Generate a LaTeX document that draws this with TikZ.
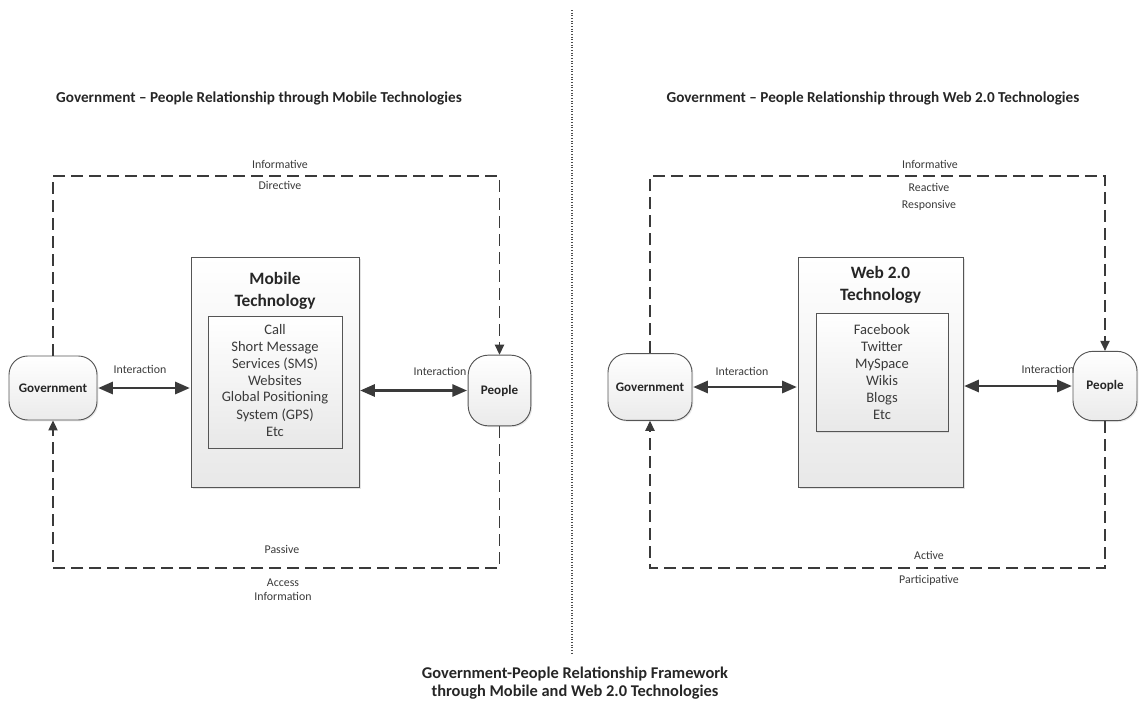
\documentclass[tikz,border=0pt]{standalone}
\usepackage{fontspec}
\setmainfont{Carlito}
\usetikzlibrary{arrows.meta,shadows}
\definecolor{edge}{HTML}{555555}
\definecolor{ink}{HTML}{262626}
\definecolor{soft}{HTML}{3A3A3A}
\begin{document}
\begin{tikzpicture}[x=0.75pt,y=-0.75pt,
  actor/.style={draw=edge,line width=0.7pt,rounded corners=14pt,
    top color=white,bottom color=black!8,
    drop shadow={opacity=0.18,shadow xshift=1pt,shadow yshift=-1pt},
    font=\fontsize{9.8}{11}\selectfont\bfseries,text=ink,inner sep=0pt},
  techbox/.style={draw=edge,line width=0.7pt,
    top color=white,bottom color=black!9,
    drop shadow={opacity=0.22,shadow xshift=1.5pt,shadow yshift=-1.5pt},inner sep=0pt},
  innerbox/.style={draw=edge,line width=0.7pt,
    top color=white,bottom color=black!9,
    drop shadow={opacity=0.18,shadow xshift=1pt,shadow yshift=-1pt},inner sep=0pt},
  boxtitle/.style={font=\fontsize{13}{16.5}\selectfont\bfseries,text=ink,align=center},
  items/.style={font=\fontsize{10.9}{12.75}\selectfont,text=soft,align=center},
  lbl/.style={font=\fontsize{8.9}{10.5}\selectfont,text=soft,align=center,inner sep=0pt},
  heading/.style={font=\fontsize{11.4}{13}\selectfont\bfseries,text=ink},
  caption/.style={font=\fontsize{12.3}{13}\selectfont\bfseries,text=ink,align=center},
  link/.style={draw=soft,line width=2pt,
    {Triangle[length=11pt,width=9pt]}-{Triangle[length=11pt,width=9pt]},shorten <=0.5pt,shorten >=0.5pt},
  loop/.style={draw=soft,line width=0.8pt,dash pattern=on 9pt off 4.5pt,
    -{Triangle[length=7.5pt,width=7pt]}},
  divider/.style={draw=black!70,line width=0.8pt,dash pattern=on 0.8pt off 1.2pt}
]
\useasboundingbox (0,0) rectangle (1140,704);

% divider between the two frameworks
\coordinate (dtop) at (572,10);
\coordinate (dbot) at (572,655);
\draw[divider] (dtop) -- (dbot);

% headings
\node[heading] (h1) at (259,98) {Government – People Relationship through Mobile Technologies};
\node[heading] (h2) at (873,98) {Government – People Relationship through Web 2.0 Technologies};

% ---------- mobile technologies ----------
\node[actor,minimum width=66pt,minimum height=48pt] (gov1) at (53,388) {Government};
\node[actor,minimum width=47pt,minimum height=53pt,rounded corners=15pt] (peo1) at (499.5,390.5) {People};
\node[techbox,minimum width=126pt,minimum height=172.5pt] (mob) at (275,372) {};
\node[innerbox,minimum width=100.5pt,minimum height=99pt] (mobin) at (275,382) {};
\node[boxtitle] (mobt) at (275,291) {Mobile\\Technology};
\node[items] (mobi) at (275,380) {Call\\Short Message\\Services (SMS)\\Websites\\Global Positioning\\System (GPS)\\Etc};

\draw[link] (gov1.east) -- (mob.west |- gov1.east);
\draw[link] (mob.east |- peo1.west) -- (peo1.west);
\node[lbl] (int1) at (140,369) {Interaction};
\node[lbl] (int2) at (440,371) {Interaction};

\coordinate (tl1) at (53,176);
\coordinate (tr1) at (499.5,176);
\coordinate (bl1) at (53,568);
\coordinate (br1) at (499.5,568);
\draw[loop] (gov1.north) -- (tl1) -- (tr1) -- (peo1.north);
\draw[loop] (peo1.south) -- (br1) -- (bl1) -- (gov1.south);

\node[lbl] (inf1) at (280,164) {Informative};
\node[lbl] (dir1) at (280,185) {Directive};
\node[lbl] (pas1) at (282,549) {Passive};
\node[lbl] (acc1) at (283,590) {Access\\Information};

% ---------- web 2.0 technologies ----------
\node[actor,minimum width=63pt,minimum height=50pt] (gov2) at (650,387) {Government};
\node[actor,minimum width=48pt,minimum height=52pt,rounded corners=15pt] (peo2) at (1105,386) {People};
\node[techbox,minimum width=123.75pt,minimum height=172.5pt] (web) at (880.5,372) {};
\node[innerbox,minimum width=99pt,minimum height=89pt] (webin) at (882,372.5) {};
\node[boxtitle] (webt) at (880.5,285) {Web 2.0\\Technology};
\node[items] (webi) at (882,372) {Facebook\\Twitter\\MySpace\\Wikis\\Blogs\\Etc};

\draw[link] (gov2.east) -- (web.west |- gov2.east);
\draw[link] (web.east |- peo2.west) -- (peo2.west);
\node[lbl] (int3) at (742,371) {Interaction};
\node[lbl] (int4) at (1048,369) {Interaction};

\coordinate (tl2) at (650,176);
\coordinate (tr2) at (1105,176);
\coordinate (bl2) at (650,568);
\coordinate (br2) at (1105,568);
\draw[loop] (gov2.north) -- (tl2) -- (tr2) -- (peo2.north);
\draw[loop] (peo2.south) -- (br2) -- (bl2) -- (gov2.south);

\node[lbl] (inf2) at (930,164) {Informative};
\node[lbl] (rea2) at (929,187) {Reactive};
\node[lbl] (res2) at (929,205) {Responsive};
\node[lbl] (act2) at (929,555) {Active};
\node[lbl] (par2) at (929,580) {Participative};

% caption
\node[caption] (cap) at (575,683) {Government-People Relationship Framework\\through Mobile and Web 2.0 Technologies};
\end{tikzpicture}
\end{document}
